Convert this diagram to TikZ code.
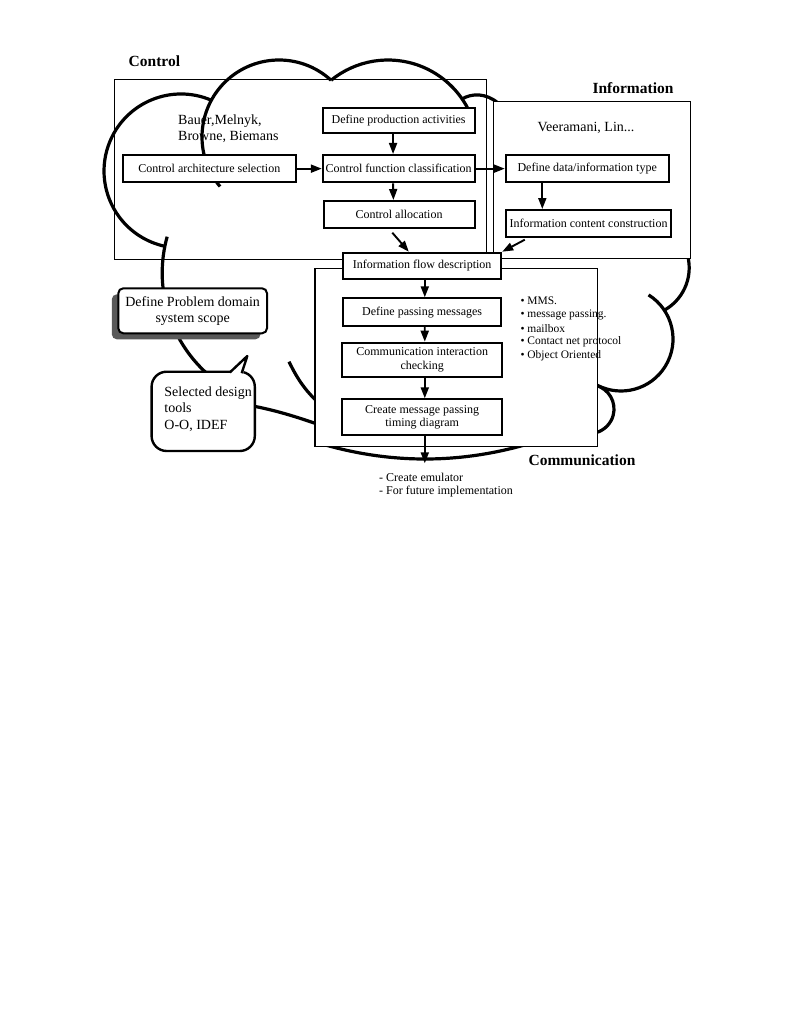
\documentclass[tikz,border=0pt]{standalone}
\usepackage{fontspec}
\setmainfont{Liberation Serif}
\usetikzlibrary{arrows.meta}
\begin{document}
\begin{tikzpicture}[x=1pt,y=-1pt,
  cloudline/.style={line width=3.2pt},
  framebox/.style={draw, line width=1.5pt, inner sep=0pt},
  pbox/.style={draw, fill=white, line width=2pt, inner sep=0pt, align=center,
     font=\fontsize{12pt}{13.4pt}\selectfont},
  arr/.style={line width=1.9pt, -{Triangle[length=11pt,width=8pt]}},
  titletext/.style={font=\fontsize{15.5pt}{18pt}\selectfont\bfseries, inner sep=0pt},
  notetext/.style={font=\fontsize{14pt}{16.3pt}\selectfont, inner sep=0pt, align=left},
  smalltext/.style={font=\fontsize{11.5pt}{13.8pt}\selectfont, inner sep=0pt, anchor=west},
  endtext/.style={font=\fontsize{12pt}{14pt}\selectfont, inner sep=0pt, anchor=west},
]
\fill[white] (0,0) rectangle (789,1035);
\useasboundingbox (0,0) rectangle (789,1035);

% cloud outline
\draw[cloudline] (181,171) ++(67:77pt) arc[start angle=67, end angle=258, radius=77pt];
\draw[cloudline] (279,137) ++(47.5:77pt) arc[start angle=47.5, end angle=220, radius=77pt];
\draw[cloudline] (388,150) ++(129.2:90pt) arc[start angle=129.2, end angle=24, radius=90pt];
\draw[cloudline] (462,99) .. controls (472,93) and (486,93) .. (498,103);
\draw[cloudline] (297.7,272.9) ++(164.5:135.5pt) arc[start angle=164.5, end angle=228, radius=135.5pt];
\draw[cloudline] (250,405.5) .. controls (275,410) and (297,417) .. (320,425);
\draw[cloudline] (289,361.7) .. controls (296,376) and (304,390) .. (320,404);
\draw[cloudline] (320,443.4) .. controls (390,464.2) and (460,464.2) .. (530,443.4);
\draw[cloudline] (589.5,409) ++(75:24.5pt) arc[start angle=75, end angle=-75, radius=24.5pt];
\draw[cloudline] (621,339) ++(58:52pt) arc[start angle=58, end angle=-117, radius=52pt];
\draw[cloudline] (640.6,267.8) ++(20:48.6pt) arc[start angle=20, end angle=-60, radius=48.6pt];

% frames
\node[framebox, line width=1.2pt, minimum width=372.2pt, minimum height=180pt] (ctrlframe) at (300.6,169.3) {};
\node[framebox, fill=white, minimum width=196.8pt, minimum height=156.6pt] (infoframe) at (592,180) {};
\node[framebox, fill=white, minimum width=282.7pt, minimum height=178.4pt] (commframe) at (456.15,357.5) {};

% process boxes
\node[pbox, minimum width=151.7pt, minimum height=25pt] (dpa) at (398.65,120.5) {Define production activities};
\node[pbox, minimum width=172.6pt, minimum height=27.3pt] (cas) at (209.3,168.65) {Control architecture selection};
\node[pbox, minimum width=151.7pt, minimum height=27.3pt] (cfc) at (398.65,168.65) {Control function classification};
\node[pbox, minimum width=151pt, minimum height=26.7pt] (alloc) at (399,214.35) {Control allocation};
\node[pbox, minimum width=162.8pt, minimum height=27.3pt] (dd) at (587.2,168.65) {Define data/information type};
\node[pbox, minimum width=165.5pt, minimum height=26.7pt] (icc) at (588.55,223.35) {Information content construction};
\node[pbox, minimum width=158.2pt, minimum height=26.6pt] (flow) at (422.1,266) {Information flow description};
\node[pbox, minimum width=158.2pt, minimum height=27.7pt] (dpm) at (422.1,312.15) {Define passing messages};
\node[pbox, minimum width=160.4pt, minimum height=34pt] (cic) at (422.2,359.7) {Communication interaction\\checking};
\node[pbox, minimum width=160.4pt, minimum height=35.7pt] (cmp) at (422.2,417.15) {Create message passing\\timing diagram};

% problem domain box with shadow
\fill[black!65, rounded corners=5pt] (111.8,294.3) rectangle (260.5,339.3);
\node[draw, fill=white, line width=2pt, rounded corners=5pt, minimum width=148.7pt, minimum height=45pt,
  inner sep=0pt, align=center, font=\fontsize{14pt}{16pt}\selectfont] (scope) at (192.65,310.8)
  {Define Problem domain\\system scope};

% callout
\node[draw, fill=white, line width=2.4pt, rounded corners=15pt, minimum width=103.2pt, minimum height=79.3pt] (callout) at (203.2,411.35) {};
\fill[white] (229,374) -- (247.3,356) -- (243,374) -- cycle;
\draw[line width=2.4pt, line join=round] (229.8,372.5) -- (247.3,356) -- (241.7,373.2);
\node[notetext, anchor=west] (tooltxt) at (164.2,409) {Selected design\\tools\\O-O, IDEF};

% titles and notes
\node[titletext] (ctrltitle) at (154.4,61.7) {Control};
\node[titletext] (infotitle) at (633,87.7) {Information};
\node[titletext] (commtitle) at (582,460) {Communication};
\node[notetext, anchor=west] (authors1) at (178,129) {Bauer,Melnyk,\\Browne, Biemans};
\node[notetext] (authors2) at (586,127.7) {Veeramani, Lin...};
\node[smalltext] (b1) at (520.3,300.7) {• MMS.};
\node[smalltext] (b2) at (520.3,314.5) {• message passing.};
\node[smalltext] (b3) at (520.3,328.3) {• mailbox};
\node[smalltext] (b4) at (520.3,342.1) {• Contact net protocol};
\node[smalltext] (b5) at (520.3,355.9) {• Object Oriented};
\node[endtext] (e1) at (379,477.7) {- Create emulator};
\node[endtext] (e2) at (379,491.7) {- For future implementation};

% arrows
\draw[arr] (cas.east) -- (cfc.west);
\draw[arr] ([xshift=-5.6pt]dpa.south) -- ([xshift=-5.6pt]cfc.north);
\draw[arr] ([xshift=-5.6pt]cfc.south) -- ([xshift=-5.6pt]alloc.north);
\draw[arr] (cfc.east) -- (dd.west);
\draw[arr] ([xshift=37.5pt]dd.south west) -- ([xshift=37.5pt]icc.north west);
\draw[arr] ([xshift=-6.7pt,yshift=-4pt]alloc.south) -- ([xshift=-13.3pt]flow.north);
\draw[arr] ([xshift=20pt,yshift=-2pt]icc.south west) -- (flow.north east);
\draw[arr] ([xshift=2.7pt]flow.south) -- ([xshift=2.7pt]dpm.north);
\draw[arr] ([xshift=2.6pt]dpm.south) -- ([xshift=2.6pt]cic.north);
\draw[arr] ([xshift=2.6pt]cic.south) -- ([xshift=2.6pt]cmp.north);
\coordinate (out) at (424.8,463.3);
\draw[arr] ([xshift=2.6pt]cmp.south) -- (out);
\end{tikzpicture}
\end{document}
